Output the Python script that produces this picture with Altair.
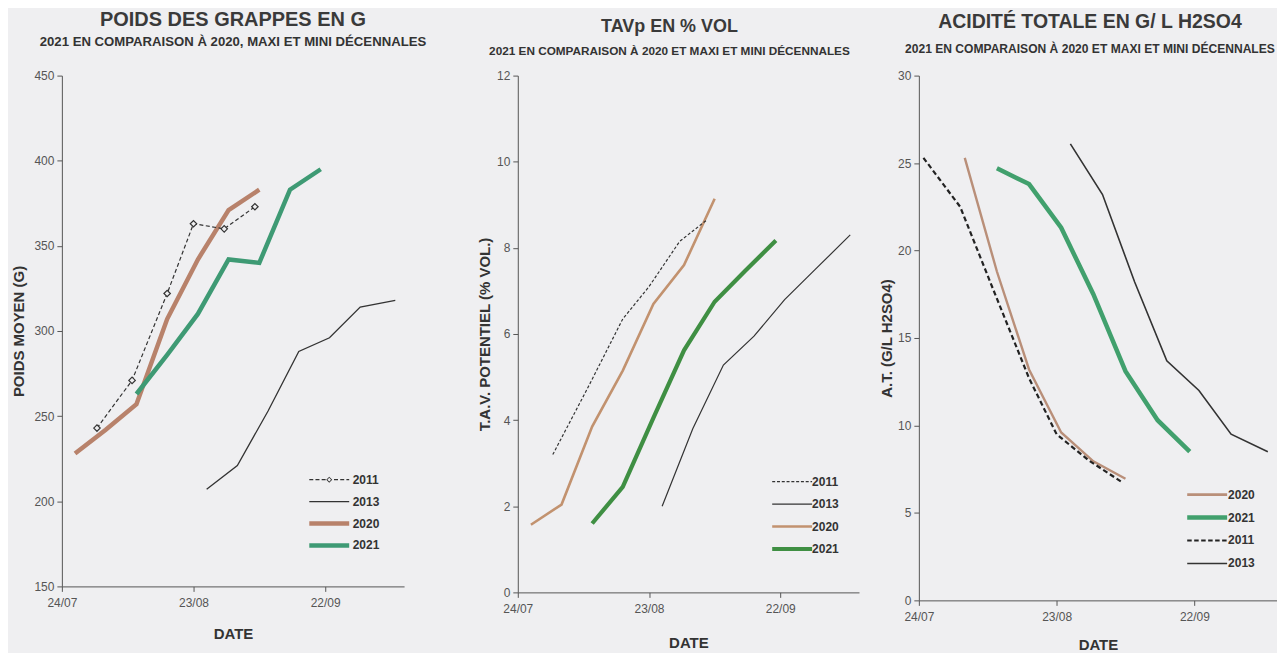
import altair as alt
import pandas as pd

BG = "#efeff1"
REF_YEAR = 2021
START = "24/07"
AXIS_END_DAY = 78
X_TICKS = ["24/07", "23/08", "22/09"]
ORDER = ["2011", "2013", "2020", "2021"]

# ---------- Panel 1 : POIDS DES GRAPPES EN G ----------
p1_2011_dates = ["01/08", "09/08", "17/08", "23/08", "30/08", "06/09"]
p1_2011_vals = [243, 271, 322, 363, 360, 373]
p1_2013_dates = ["26/08", "02/09", "09/09", "16/09", "23/09", "30/09", "08/10"]
p1_2013_vals = [207, 221, 253, 288, 296, 314, 318]
p1_2020_dates = ["27/07", "03/08", "10/08", "17/08", "24/08", "31/08", "07/09"]
p1_2020_vals = [228, 242, 257, 307, 342, 371, 383]
p1_2021_dates = ["10/08", "17/08", "24/08", "31/08", "07/09", "14/09", "21/09"]
p1_2021_vals = [263, 286, 310, 342, 340, 383, 395]

# ---------- Panel 2 : TAVp EN % VOL ----------
p2_2011_dates = ["01/08", "09/08", "17/08", "23/08", "30/08", "05/09"]
p2_2011_vals = [3.2, 4.75, 6.35, 7.1, 8.15, 8.63]
p2_2013_dates = ["26/08", "02/09", "09/09", "16/09", "23/09", "30/09", "08/10"]
p2_2013_vals = [2.0, 3.8, 5.28, 5.95, 6.8, 7.5, 8.3]
p2_2020_dates = ["27/07", "03/08", "10/08", "17/08", "24/08", "31/08", "07/09"]
p2_2020_vals = [1.57, 2.04, 3.85, 5.15, 6.7, 7.6, 9.14]
p2_2021_dates = ["10/08", "17/08", "24/08", "31/08", "07/09", "14/09", "21/09"]
p2_2021_vals = [1.6, 2.45, 4.05, 5.62, 6.75, 7.47, 8.17]

# ---------- Panel 3 : ACIDITE TOTALE ----------
p3_2011_dates = ["25/07", "02/08", "09/08", "17/08", "23/08", "30/08", "06/09"]
p3_2011_vals = [25.3, 22.5, 17.9, 12.7, 9.5, 8.0, 6.8]
p3_2013_dates = ["26/08", "02/09", "09/09", "16/09", "23/09", "30/09", "08/10"]
p3_2013_vals = [26.1, 23.2, 18.2, 13.7, 12.0, 9.5, 8.5]
p3_2020_dates = ["03/08", "10/08", "17/08", "24/08", "31/08", "07/09"]
p3_2020_vals = [25.3, 18.8, 13.2, 9.6, 7.95, 6.95]
p3_2021_dates = ["10/08", "17/08", "24/08", "31/08", "07/09", "14/09", "21/09"]
p3_2021_vals = [24.7, 23.8, 21.3, 17.5, 13.1, 10.3, 8.5]


def to_days(dates):
    start = pd.Timestamp(f"{REF_YEAR}-{START[3:5]}-{START[0:2]}")
    return [(pd.Timestamp(f"{REF_YEAR}-{d[3:5]}-{d[0:2]}") - start).days for d in dates]


def frame(series):
    rows = []
    for year, (dates, vals) in series.items():
        for d, v in zip(to_days(dates), vals):
            rows.append({"year": year, "day": d, "value": v})
    return pd.DataFrame(rows)


X_TICK_DAYS = to_days(X_TICKS)
label_expr = f"'{X_TICKS[-1]}'"
for d, lab in reversed(list(zip(X_TICK_DAYS[:-1], X_TICKS[:-1]))):
    label_expr = f"datum.value == {d} ? '{lab}' : " + label_expr


# legend symbol paths (unit = 10 px with symbolSize 400)
def rect_path(half):
    return f"M-2,{-half}H2V{half}H-2Z"


def dashed_path(half, dash, gap, diamond=None):
    parts = []
    x = -2.0
    while x < 2.0 - 1e-9:
        x2 = min(x + dash, 2.0)
        segs = [(x, x2)]
        if diamond:
            r = diamond[0]
            segs = []
            if x < -r:
                segs.append((x, min(x2, -r)))
            if x2 > r:
                segs.append((max(x, r), x2))
        for a, b in segs:
            if b - a > 0.02:
                parts.append(f"M{a:.2f},{-half}H{b:.2f}V{half}H{a:.2f}Z")
        x = x2 + gap
    if diamond:
        r, t = diamond
        ri = r - t
        parts.append(f"M0,{-r}L{r},0L0,{r}L{-r},0Z")
        parts.append(f"M0,{-ri:.2f}L{-ri:.2f},0L0,{ri:.2f}L{ri:.2f},0Z")
    return "".join(parts)


FONT = "Liberation Sans"


def panel(df, styles, draw_order, legend_order, ydomain, yticks, ytitle,
          width, height, title, legend_xy, label_offset, row_pad, y_title_pad,
          x_title_pad, markers=False):
    x = alt.X("day:Q",
              scale=alt.Scale(domain=[0, AXIS_END_DAY], nice=False, zero=False),
              axis=alt.Axis(values=X_TICK_DAYS, labelExpr=label_expr, title="DATE",
                            grid=False, labelFlush=False, labelFont=FONT,
                            labelFontSize=12, labelColor="#555", labelPadding=6,
                            tickSize=5, tickColor="#555", domainColor="#555",
                            titleFont=FONT, titleFontSize=15, titleFontWeight="bold",
                            titleColor="#333", titlePadding=x_title_pad))
    y = alt.Y("value:Q",
              scale=alt.Scale(domain=ydomain, nice=False, zero=False),
              axis=alt.Axis(values=yticks, title=ytitle, grid=False, labelFont=FONT,
                            labelFontSize=12, labelColor="#555", labelPadding=3,
                            tickSize=5, tickColor="#555", domainColor="#555",
                            titleFont=FONT, titleFontSize=15, titleFontWeight="bold",
                            titleColor="#333", titlePadding=y_title_pad))
    layers = []
    for yr in draw_order:
        st = styles[yr]
        kw = dict(color=st["color"], strokeWidth=st["width"])
        if st.get("dash"):
            kw["strokeDash"] = st["dash"]
        layers.append(
            alt.Chart(df).transform_filter(alt.datum.year == yr)
            .mark_line(**kw).encode(x=x, y=y)
        )
    if markers:
        layers.append(
            alt.Chart(df).transform_filter(alt.datum.year == "2011")
            .mark_point(shape="diamond", filled=True, fill=BG, stroke="#333",
                        strokeWidth=1.2, size=42, opacity=1)
            .encode(x=x, y=y)
        )
    leg = alt.Legend(orient="none", legendX=legend_xy[0], legendY=legend_xy[1],
                     title=None, symbolSize=400, symbolStrokeWidth=0,
                     symbolOpacity=1, labelFont=FONT, labelFontSize=12,
                     labelFontWeight="bold", labelColor="#333",
                     labelOffset=label_offset, rowPadding=row_pad, padding=0)
    layers.append(
        alt.Chart(df).transform_filter("false")
        .mark_point(filled=True, opacity=1)
        .encode(
            x=x, y=y,
            color=alt.Color("year:N", scale=alt.Scale(
                domain=legend_order, range=[styles[k]["color"] for k in legend_order]),
                legend=leg),
            shape=alt.Shape("year:N", scale=alt.Scale(
                domain=legend_order, range=[styles[k]["path"] for k in legend_order]),
                legend=leg),
        )
    )
    return alt.layer(*layers).properties(width=width, height=height, title=title)


# ---------- styles ----------
s1 = {
    "2011": dict(color="#333333", width=1.2, dash=[4, 2.5],
                 path=dashed_path(0.06, 0.4, 0.22, diamond=(0.3, 0.12))),
    "2013": dict(color="#333333", width=1.3, path=rect_path(0.065)),
    "2020": dict(color="#b8826b", width=4.5, path=rect_path(0.22)),
    "2021": dict(color="#3e9a74", width=4.5, path=rect_path(0.22)),
}
s2 = {
    "2011": dict(color="#333333", width=1.2, dash=[3, 2],
                 path=dashed_path(0.06, 0.3, 0.18)),
    "2013": dict(color="#333333", width=1.2, path=rect_path(0.06)),
    "2020": dict(color="#c2926f", width=2.6, path=rect_path(0.13)),
    "2021": dict(color="#3f8f43", width=4.2, path=rect_path(0.21)),
}
s3 = {
    "2011": dict(color="#222222", width=2.2, dash=[5, 3],
                 path=dashed_path(0.1, 0.45, 0.25)),
    "2013": dict(color="#333333", width=1.6, path=rect_path(0.08)),
    "2020": dict(color="#b98f79", width=2.4, path=rect_path(0.13)),
    "2021": dict(color="#41a06d", width=4.5, path=rect_path(0.22)),
}

df1 = frame({"2011": (p1_2011_dates, p1_2011_vals), "2013": (p1_2013_dates, p1_2013_vals),
             "2020": (p1_2020_dates, p1_2020_vals), "2021": (p1_2021_dates, p1_2021_vals)})
df2 = frame({"2011": (p2_2011_dates, p2_2011_vals), "2013": (p2_2013_dates, p2_2013_vals),
             "2020": (p2_2020_dates, p2_2020_vals), "2021": (p2_2021_dates, p2_2021_vals)})
df3 = frame({"2011": (p3_2011_dates, p3_2011_vals), "2013": (p3_2013_dates, p3_2013_vals),
             "2020": (p3_2020_dates, p3_2020_vals), "2021": (p3_2021_dates, p3_2021_vals)})


def make_title(text, sub, size, subsize, sub_pad, offset, dx):
    return alt.TitleParams(
        text=text, subtitle=sub, font=FONT, fontSize=size, fontWeight="bold",
        color="#3a3a3a", subtitleFont=FONT, subtitleFontSize=subsize,
        subtitleFontWeight="bold", subtitleColor="#333",
        subtitlePadding=sub_pad, anchor="middle", frame="group",
        offset=offset, dx=dx)


p1 = panel(df1, s1, ["2020", "2021", "2013", "2011"], ORDER,
           [150, 450], [150, 200, 250, 300, 350, 400, 450], "POIDS MOYEN (G)",
           343, 512,
           make_title("POIDS DES GRAPPES EN G",
                      "2021 EN COMPARAISON À 2020, MAXI ET MINI DÉCENNALES",
                      20, 13.2, 7, 21, 0),
           (258, 395), 13.5, 6, 7, 18, markers=True)

p2 = panel(df2, s2, ["2020", "2021", "2013", "2011"], ORDER,
           [0, 12], [0, 2, 4, 6, 8, 10, 12], "T.A.V. POTENTIEL (% VOL.)",
           342, 518,
           make_title("TAVp EN % VOL",
                      "2021 EN COMPARAISON À 2020 ET MAXI ET MINI DÉCENNALES",
                      18, 11.8, 10, 12, -19),
           (265, 397), 10, 6.5, 4, 21)

p3 = panel(df3, s3, ["2020", "2011", "2021", "2013"], ["2020", "2021", "2011", "2013"],
           [0, 30], [0, 5, 10, 15, 20, 25, 30], "A.T. (G/L H2SO4)",
           359, 526,
           make_title("ACIDITÉ TOTALE EN G/ L H2SO4",
                      "2021 EN COMPARAISON À 2020 ET MAXI ET MINI DÉCENNALES",
                      19.5, 12.1, 10, 14, -8),
           (279, 410), 11, 7, 3, 15)

inner = alt.hconcat(p1, p2, spacing=50).resolve_scale(color="independent", shape="independent")
chart = (
    alt.hconcat(inner, p3, spacing=20)
    .resolve_scale(color="independent", shape="independent")
    .properties(background=BG, padding={"left": 3, "top": 0, "right": 0, "bottom": 0})
    .configure_view(stroke=None)
)

chart.save("out.html", embed_options={"renderer": "svg", "actions": False})
